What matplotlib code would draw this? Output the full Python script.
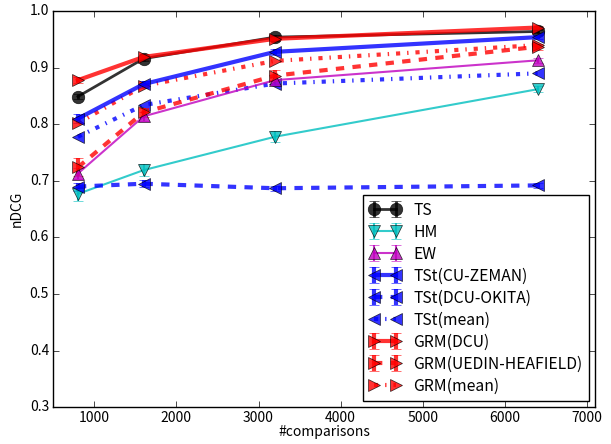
import matplotlib
matplotlib.use("Agg")
import matplotlib.pyplot as plt

plt.style.use("classic")
plt.rcParams['font.family'] = ['Noto Sans CJK JP', 'DejaVu Sans']

comparisons = [800, 1600, 3200, 6400]

ts = [0.849, 0.916, 0.954, 0.964]
ts_err = [0.005, 0.004, 0.004, 0.003]
hm = [0.677, 0.719, 0.778, 0.862]
hm_err = [0.012, 0.010, 0.010, 0.005]
ew = [0.713, 0.814, 0.878, 0.913]
ew_err = [0.010, 0.008, 0.006, 0.005]
tst_cu = [0.810, 0.871, 0.928, 0.954]
tst_cu_err = [0.008, 0.006, 0.005, 0.004]
tst_dcu = [0.690, 0.695, 0.687, 0.692]
tst_dcu_err = [0.007, 0.006, 0.004, 0.004]
tst_mean = [0.778, 0.834, 0.872, 0.890]
grm_dcu = [0.878, 0.919, 0.951, 0.971]
grm_dcu_err = [0.005, 0.005, 0.004, 0.003]
grm_uedin = [0.724, 0.821, 0.886, 0.937]
grm_uedin_err = [0.016, 0.008, 0.010, 0.005]
grm_mean = [0.802, 0.868, 0.912, 0.940]

legend_order = ['TS', 'HM', 'EW', 'TSt(CU-ZEMAN)', 'TSt(DCU-OKITA)', 'TSt(mean)',
                'GRM(DCU)', 'GRM(UEDIN-HEAFIELD)', 'GRM(mean)']

fig = plt.figure(figsize=(6.11, 4.44), dpi=100)
fig.patch.set_facecolor('white')
ax = fig.add_axes([0.0872, 0.0827, 0.8868, 0.8923])

ms = 9
al = 0.8
cs = 3.5
ax.errorbar(comparisons, ts, yerr=ts_err, color='k', marker='o', ms=ms, lw=2,
            capsize=cs, alpha=al, label='TS')
ax.errorbar(comparisons, hm, yerr=hm_err, color='c', marker='v', ms=ms, lw=1.5,
            capsize=cs, alpha=al, label='HM')
ax.errorbar(comparisons, ew, yerr=ew_err, color='m', marker='^', ms=ms, lw=1.5,
            capsize=cs, alpha=al, label='EW')
ax.errorbar(comparisons, tst_cu, yerr=tst_cu_err, color='b', marker='<', ms=ms, lw=3,
            capsize=cs, alpha=al, label='TSt(CU-ZEMAN)')
ax.errorbar(comparisons, tst_dcu, yerr=tst_dcu_err, color='b', marker='<', ms=ms, lw=3,
            ls='--', capsize=cs, alpha=al, label='TSt(DCU-OKITA)')
ax.plot(comparisons, tst_mean, color='b', marker='<', ms=ms, lw=3, ls='-.',
        alpha=al, label='TSt(mean)')
ax.errorbar(comparisons, grm_dcu, yerr=grm_dcu_err, color='r', marker='>', ms=ms, lw=3,
            capsize=cs, alpha=al, label='GRM(DCU)')
ax.errorbar(comparisons, grm_uedin, yerr=grm_uedin_err, color='r', marker='>', ms=ms, lw=3,
            ls='--', capsize=cs, alpha=al, label='GRM(UEDIN-HEAFIELD)')
ax.plot(comparisons, grm_mean, color='r', marker='>', ms=ms, lw=3, ls='-.',
        alpha=al, label='GRM(mean)')

ax.set_xlim(500, 7100)
ax.set_ylim(0.3, 1.0)
ax.set_xticks([1000, 2000, 3000, 4000, 5000, 6000, 7000])
ax.set_yticks([0.3, 0.4, 0.5, 0.6, 0.7, 0.8, 0.9, 1.0])
ax.tick_params(labelsize=10, pad=3)
ax.set_xlabel('#comparisons', fontsize=10, labelpad=0)
ax.set_ylabel('nDCG', fontsize=10, labelpad=4)

handles, labels = ax.get_legend_handles_labels()
hmap = dict(zip(labels, handles))
ax.legend([hmap[l] for l in legend_order], legend_order, loc='lower right',
          fontsize=11.3, numpoints=2, labelspacing=0.32, handlelength=2.0,
          borderaxespad=0.4)

fig.savefig('out.png', dpi=100, facecolor='white')
